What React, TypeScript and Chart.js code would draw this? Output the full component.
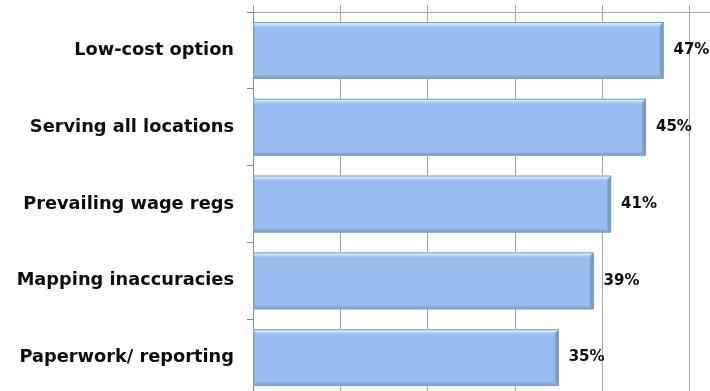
import { useEffect, useRef } from "react";
import { Chart, registerables } from "chart.js";

Chart.register(...registerables);

// Survey results: share of respondents naming each barrier
const categories = [
  "Low-cost option",
  "Serving all locations",
  "Prevailing wage regs",
  "Mapping inaccuracies",
  "Paperwork/ reporting",
];
const shares = [47, 45, 41, 39, 35];
const axisMin = 0;
const axisMax = 60;
const axisStep = 10;

const FONT = "'DejaVu Sans', 'Liberation Sans', Arial, sans-serif";
const BAR_FILL = "#98BEEF";
const GRID = "#A6A6A6";

// Adds a bevelled edge to each bar: light top rim, darker right and bottom rims
const bevelPlugin = {
  id: "bevel",
  afterDatasetsDraw(chart: any) {
    const ctx = chart.ctx as CanvasRenderingContext2D;
    const meta = chart.getDatasetMeta(0);
    meta.data.forEach((bar: any) => {
      const { x, y, base, height } = bar.getProps(["x", "y", "base", "height"], true);
      const top = y - height / 2;
      const bottom = y + height / 2;
      const left = Math.min(base, x);
      const right = Math.max(base, x);
      const b = 4;
      ctx.save();

      const g = ctx.createLinearGradient(0, top, 0, top + b + 1);
      g.addColorStop(0, "rgba(232,246,255,1)");
      g.addColorStop(0.5, "rgba(200,228,252,0.9)");
      g.addColorStop(1, "rgba(160,200,243,0.4)");
      ctx.fillStyle = g;
      ctx.beginPath();
      ctx.moveTo(left, top);
      ctx.lineTo(right, top);
      ctx.lineTo(right - b, top + b + 1);
      ctx.lineTo(left, top + b + 1);
      ctx.closePath();
      ctx.fill();

      const gr = ctx.createLinearGradient(right - b, 0, right, 0);
      gr.addColorStop(0, "rgba(125,160,208,0.7)");
      gr.addColorStop(1, "rgba(100,135,185,0.9)");
      ctx.fillStyle = gr;
      ctx.beginPath();
      ctx.moveTo(right, top);
      ctx.lineTo(right, bottom);
      ctx.lineTo(right - b, bottom - b);
      ctx.lineTo(right - b, top + b);
      ctx.closePath();
      ctx.fill();

      const gb = ctx.createLinearGradient(0, bottom - b, 0, bottom);
      gb.addColorStop(0, "rgba(140,175,222,0.5)");
      gb.addColorStop(1, "rgba(110,145,195,0.85)");
      ctx.fillStyle = gb;
      ctx.beginPath();
      ctx.moveTo(left, bottom);
      ctx.lineTo(right, bottom);
      ctx.lineTo(right - b, bottom - b);
      ctx.lineTo(left, bottom - b);
      ctx.closePath();
      ctx.fill();

      ctx.strokeStyle = "#7F9DC9";
      ctx.lineWidth = 1;
      ctx.strokeRect(left + 0.5, top + 0.5, right - left - 1, bottom - top - 1);
      ctx.restore();
    });
  },
};

// Percentage labels just past the end of each bar
const valueLabelPlugin = {
  id: "valueLabels",
  afterDatasetsDraw(chart: any) {
    const ctx = chart.ctx as CanvasRenderingContext2D;
    const meta = chart.getDatasetMeta(0);
    ctx.save();
    ctx.font = `bold 15px ${FONT}`;
    ctx.fillStyle = "#0d0d0d";
    ctx.textAlign = "left";
    ctx.textBaseline = "middle";
    meta.data.forEach((bar: any, i: number) => {
      const { x, y } = bar.getProps(["x", "y"], true);
      ctx.fillText(`${shares[i]}%`, x + 10, y);
    });
    ctx.restore();
  },
};

export default function App() {
  const canvasRef = useRef<HTMLCanvasElement | null>(null);

  useEffect(() => {
    if (!canvasRef.current) return;
    const chart = new Chart(canvasRef.current, {
      type: "bar",
      data: {
        labels: categories,
        datasets: [
          {
            data: shares,
            backgroundColor: BAR_FILL,
            borderWidth: 0,
            barPercentage: 0.74,
            categoryPercentage: 1,
          },
        ],
      },
      options: {
        indexAxis: "y",
        responsive: false,
        animation: false,
        devicePixelRatio: 1,
        layout: { padding: { top: 5, right: 23, bottom: 4, left: 0 } },
        plugins: {
          legend: { display: false },
          tooltip: { enabled: false },
        },
        scales: {
          x: {
            position: "top",
            min: axisMin,
            max: axisMax,
            ticks: { display: false, stepSize: axisStep },
            grid: { color: GRID, lineWidth: 1, drawTicks: true, tickLength: 7 },
            border: { display: true, color: GRID },
          },
          y: {
            position: "left",
            afterFit(scale: any) {
              scale.width = 253;
              scale.paddingTop = 0;
              scale.paddingBottom = 0;
            },
            ticks: {
              padding: 13,
              color: "#0d0d0d",
              font: { family: FONT, size: 17.8, weight: "bold" },
            },
            grid: {
              drawOnChartArea: false,
              drawTicks: true,
              tickLength: 6,
              color: "#888888",
            },
            border: { display: true, color: "#8C8C8C" },
          },
        },
      },
      plugins: [bevelPlugin, valueLabelPlugin],
    });
    return () => chart.destroy();
  }, []);

  return (
    <div
      style={{
        position: "fixed",
        left: 0,
        top: 0,
        width: 710,
        height: 391,
        overflow: "hidden",
        background: "#ffffff",
      }}
    >
      <canvas ref={canvasRef} width={800} height={400} style={{ display: "block" }} />
    </div>
  );
}
